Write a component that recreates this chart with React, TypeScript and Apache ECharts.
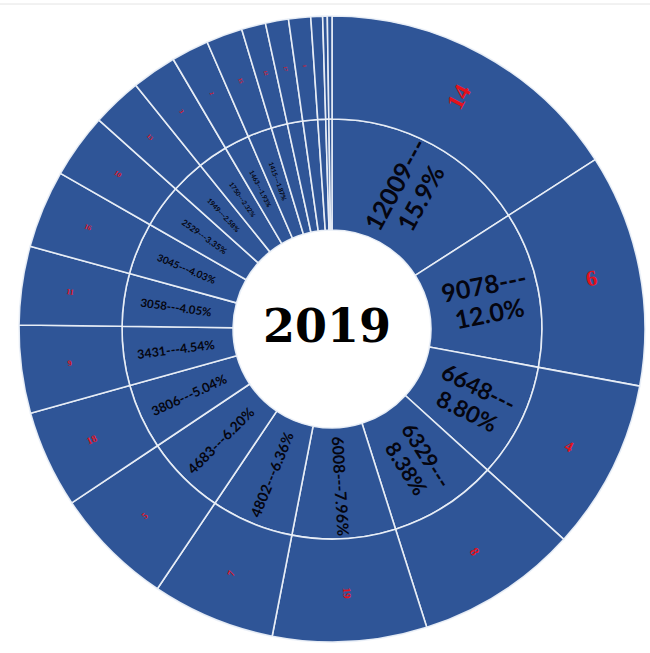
import React, { useEffect, useRef } from "react";
import * as echarts from "echarts";

// Slice values (clockwise from 12 o'clock)
const values = [12009, 9078, 6648, 6329, 6008, 4802, 4683, 3806, 3431, 3058, 3045, 2529, 1949, 1750, 1463, 1415, 940, 900, 860, 457, 180, 180];
const percents = ["15.9%", "12.0%", "8.80%", "8.38%", "7.96%", "6.36%", "6.20%", "5.04%", "4.54%", "4.05%", "4.03%", "3.35%", "2.58%", "2.32%", "1.93%", "1.87%", "1.24%", "1.19%", "1.14%", "0.61%", "0.24%", "0.24%"];
// Red numbers on the outer ring
const outerLabels = ["14", "6", "4", "8", "19", "7", "5", "18", "9", "11", "16", "10", "13", "3", "2", "15", "12", "17", "1", "20", "21", "22"];
const centerTitle = "2019";

// Label sizes (style)
const innerSizes = [25, 25, 23, 21, 16, 14.5, 14, 13, 12.5, 11.5, 10, 8.5, 7, 6.5, 6.5, 6.5];
const outerSizes = [24, 22, 15, 13, 11, 10, 9, 10, 8, 8, 7, 7, 6, 6, 5.5, 5.5, 5, 5, 4.5];

export default function App() {
  const ref = useRef<HTMLDivElement>(null);
  useEffect(() => {
    const chart = echarts.init(ref.current!, null, { renderer: "svg" });
    const cx = 332;
    const cy = 329;
    const fill = "#2F5597";
    const border = "rgba(235,240,248,0.95)";

    const innerData = values.map((v, i) => {
      const text = i < 4 ? `${v}---\n${percents[i]}` : `${v}---${percents[i]}`;
      return {
        value: v,
        name: `${v}`,
        label: i < innerSizes.length
          ? { show: true, formatter: text, fontSize: innerSizes[i], lineHeight: innerSizes[i] * 1.15 }
          : { show: false },
      };
    });
    const outerData = values.map((v, i) => ({
      value: v,
      name: outerLabels[i],
      label: i < outerSizes.length
        ? { show: true, formatter: outerLabels[i], fontSize: outerSizes[i] }
        : { show: false },
    }));

    chart.setOption({
      animation: false,
      backgroundColor: "#ffffff",
      graphic: [
        {
          type: "line",
          shape: { x1: 0, y1: 4, x2: 650, y2: 4 },
          style: { stroke: "#e4e4e4", lineWidth: 1 },
          silent: true,
        },
        {
          type: "text",
          x: 327,
          y: 326,
          z: 10,
          style: {
            text: centerTitle,
            fontFamily: "DejaVu Serif",
            fontWeight: "bold",
            fontSize: 46,
            fill: "#000000",
            textAlign: "center",
            textVerticalAlign: "middle",
          },
          silent: true,
        },
      ],
      series: [
        {
          type: "pie",
          center: [cx, cy],
          radius: [99, 210],
          startAngle: 90,
          clockwise: true,
          silent: true,
          itemStyle: { color: fill, borderColor: border, borderWidth: 1.6 },
          label: {
            position: "inside",
            rotate: "radial",
            color: "#05050f",
            fontFamily: "Lato",
            fontWeight: "bold",
          },
          labelLine: { show: false },
          emphasis: { disabled: true },
          data: innerData,
        },
        {
          type: "pie",
          center: [cx, cy],
          radius: [210, 313],
          startAngle: 90,
          clockwise: true,
          silent: true,
          itemStyle: { color: fill, borderColor: border, borderWidth: 1.6 },
          label: {
            position: "inside",
            rotate: "radial",
            color: "#E3121C",
            fontFamily: "Liberation Serif",
            fontWeight: "bold",
          },
          labelLine: { show: false },
          emphasis: { disabled: true },
          data: outerData,
        },
      ],
    });
    return () => chart.dispose();
  }, []);
  return (
    <div
      ref={ref}
      style={{ position: "fixed", left: 0, top: 0, width: 650, height: 653, background: "#fff" }}
    />
  );
}
